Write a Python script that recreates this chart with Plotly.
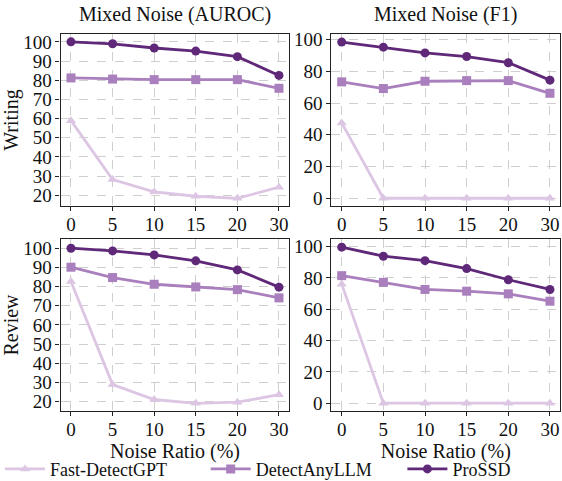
import plotly.graph_objects as go
from plotly.subplots import make_subplots

# Noise ratios (%) shown as evenly spaced categories
noise_ratio = ["0", "5", "10", "15", "20", "30"]

# Writing domain
writing_auroc_fast = [58.9, 28.2, 21.8, 19.5, 18.4, 24.2]
writing_auroc_dal = [81.2, 80.6, 80.3, 80.3, 80.3, 75.8]
writing_auroc_prossd = [100.0, 99.0, 96.8, 95.2, 92.3, 82.5]
writing_f1_fast = [47.5, 0.0, 0.0, 0.0, 0.0, 0.0]
writing_f1_dal = [73.4, 69.2, 73.8, 74.2, 74.2, 66.2]
writing_f1_prossd = [98.5, 95.3, 91.7, 89.4, 85.5, 74.5]

# Review domain
review_auroc_fast = [82.6, 28.9, 21.1, 19.1, 19.7, 23.6]
review_auroc_dal = [90.1, 84.7, 81.2, 79.8, 78.4, 74.1]
review_auroc_prossd = [100.0, 98.6, 96.5, 93.4, 88.7, 79.7]
review_f1_fast = [76.0, 0.0, 0.0, 0.0, 0.0, 0.0]
review_f1_dal = [81.4, 77.1, 72.6, 71.5, 69.8, 65.1]
review_f1_prossd = [99.6, 93.8, 91.0, 85.9, 78.8, 72.6]

methods = ["Fast-DetectGPT", "DetectAnyLLM", "ProSSD"]
colors = {"Fast-DetectGPT": "#dcc6e3", "DetectAnyLLM": "#a97fbd", "ProSSD": "#5f2878"}
symbols = {"Fast-DetectGPT": "triangle-up", "DetectAnyLLM": "square", "ProSSD": "circle"}
legend_ids = {"Fast-DetectGPT": "legend", "DetectAnyLLM": "legend2", "ProSSD": "legend3"}
legend_x = {"legend": 0.0, "legend2": 0.366, "legend3": 0.716}

panels = [
    (1, 1, [writing_auroc_fast, writing_auroc_dal, writing_auroc_prossd]),
    (1, 2, [writing_f1_fast, writing_f1_dal, writing_f1_prossd]),
    (2, 1, [review_auroc_fast, review_auroc_dal, review_auroc_prossd]),
    (2, 2, [review_f1_fast, review_f1_dal, review_f1_prossd]),
]

FONT = "Liberation Serif, Times New Roman, serif"
INK = "#111111"

fig = make_subplots(rows=2, cols=2)

for row, col, series in panels:
    for name, values in zip(methods, series):
        fig.add_trace(
            go.Scatter(
                x=noise_ratio, y=values, name=name, mode="lines+markers",
                line=dict(color=colors[name], width=2.8),
                marker=dict(symbol=symbols[name], size=9, color=colors[name]),
                showlegend=(row == 1 and col == 1),
                legend=legend_ids[name],
                cliponaxis=False,
            ),
            row=row, col=col,
        )

x_dom = {1: [0.1078, 0.5149], 2: [0.5895, 0.9971]}
y_dom = {1: [0.5717, 0.9293], 2: [0.1455, 0.5031]}
y_rng = {(1, 1): [14.4, 104.1], (1, 2): [-4.9, 103.6],
         (2, 1): [15.1, 104.8], (2, 2): [-5.0, 104.8]}
y_ticks = {(1, 1): list(range(20, 101, 10)), (1, 2): list(range(0, 101, 20)),
           (2, 1): list(range(20, 101, 10)), (2, 2): list(range(0, 101, 20))}

axis_style = dict(
    showline=True, mirror=True, linecolor="#222222", linewidth=1.2,
    ticks="outside", ticklen=4, tickwidth=1.2, tickcolor="#222222",
    showgrid=True, gridcolor="#cfcfcf", gridwidth=0.8, griddash="dash",
    zeroline=False, tickfont=dict(family=FONT, size=19, color=INK),
)

for row, col, _ in panels:
    fig.update_xaxes(
        domain=x_dom[col], type="category", range=[-0.25, 5.25],
        ticklabelstandoff=-3,
        row=row, col=col, **axis_style,
    )
    fig.update_yaxes(
        domain=y_dom[row], range=y_rng[(row, col)], tickvals=y_ticks[(row, col)],
        row=row, col=col, **axis_style,
    )

title_font = dict(family=FONT, size=20, color=INK)
fig.update_yaxes(title=dict(text="Writing", font=title_font, standoff=6), row=1, col=1)
fig.update_yaxes(title=dict(text="Review", font=title_font, standoff=6), row=2, col=1)
fig.update_xaxes(title=dict(text="Noise Ratio (%)", font=title_font, standoff=0), row=2, col=1)
fig.update_xaxes(title=dict(text="Noise Ratio (%)", font=title_font, standoff=0), row=2, col=2)

for col, text in [(1, "Mixed Noise (AUROC)"), (2, "Mixed Noise (F1)")]:
    fig.add_annotation(
        text=text, xref="paper", yref="paper",
        x=sum(x_dom[col]) / 2, xanchor="center",
        y=y_dom[1][1] + 0.012, yanchor="bottom",
        showarrow=False, font=title_font,
    )

legend_style = dict(
    orientation="h", xanchor="left", y=-0.014, yanchor="bottom", itemwidth=40,
    font=dict(family=FONT, size=18, color=INK), bgcolor="rgba(0,0,0,0)",
)

fig.update_layout(
    width=562, height=481,
    margin=dict(l=0, r=0, t=0, b=0, autoexpand=False),
    paper_bgcolor="white", plot_bgcolor="white",
    font=dict(family=FONT, color=INK),
    legend=dict(x=legend_x["legend"], **legend_style),
    legend2=dict(x=legend_x["legend2"], **legend_style),
    legend3=dict(x=legend_x["legend3"], **legend_style),
)

fig.write_html("out.html")
